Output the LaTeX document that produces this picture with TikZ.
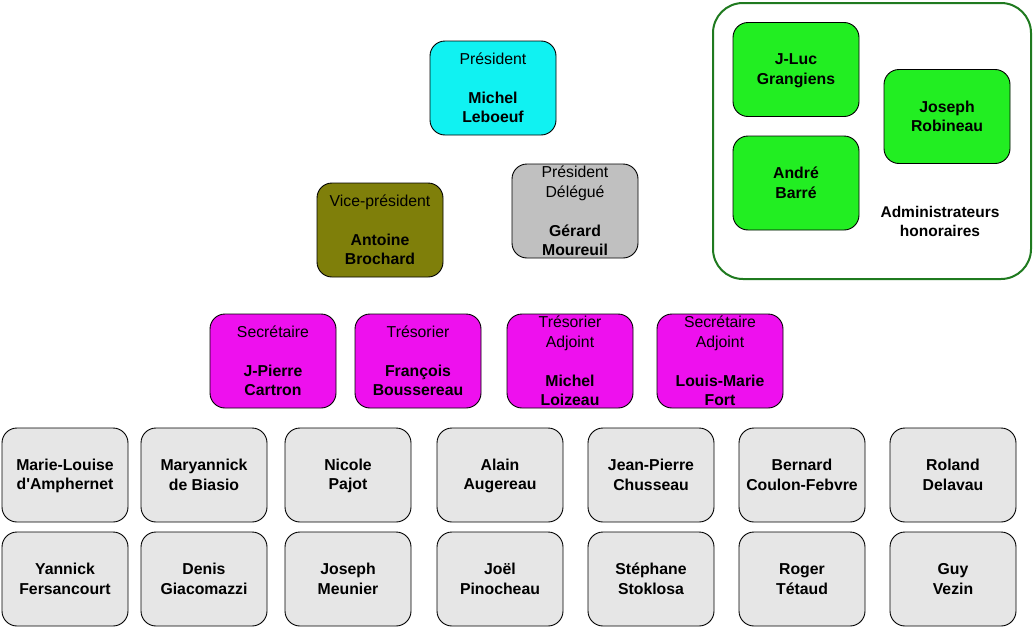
\documentclass[tikz,border=0pt]{standalone}
\usepackage{fontspec}
\setmainfont{Liberation Sans}
\definecolor{cyanbox}{HTML}{10F2F2}
\definecolor{olivebox}{HTML}{7F7F0A}
\definecolor{greybox}{HTML}{C0C0C0}
\definecolor{magbox}{HTML}{EE10EE}
\definecolor{lightbox}{HTML}{E6E6E6}
\definecolor{greenbox}{HTML}{22EE22}
\definecolor{frameg}{HTML}{1F7A1F}
\newcommand{\mys}{\rule[-2pt]{0pt}{15.3pt}}
\newcommand{\twol}[2]{\mys #1\\#2\mys}
\begin{document}
\begin{tikzpicture}[x=1pt,y=-1pt,
  card/.style={draw=black, line width=0.9pt, rounded corners=15pt,
    minimum width=126pt, minimum height=94pt, inner sep=0pt, align=center,
    font=\fontsize{15.8}{19.5}\selectfont},
  nm/.style={card, font=\fontsize{15.8}{19.5}\selectfont\bfseries},
  frame/.style={draw=frameg, line width=2pt, rounded corners=30pt}]
\useasboundingbox (0,0) rectangle (1033,629);
\fill[white] (0,0) rectangle (1033,629);

% honorary frame
\node[frame, minimum width=318pt, minimum height=276pt, inner sep=0pt] (hon) at (872,141) {};
\node[nm, fill=greenbox] (jluc) at (796,69.5) {\twol{J-Luc}{Grangiens}};
\node[nm, fill=greenbox] (andre) at (796,183) {\twol{André}{Barré}};
\node[nm, fill=greenbox] (robineau) at (947,116.5) {\twol{Joseph}{Robineau}};
\node[align=center, font=\fontsize{15.5}{19}\selectfont\bfseries] (adm) at (940,221) {\twol{Administrateurs}{honoraires}};

% top officers
\node[card, fill=cyanbox] (pres) at (493,88) {\mys Président\\[19.5pt]\textbf{Michel}\\\textbf{Leboeuf}\mys};
\node[card, fill=olivebox] (vp) at (380,230) {\mys Vice-président\\[19.5pt]\textbf{Antoine}\\\textbf{Brochard}\mys};
\node[card, fill=greybox] (pd) at (575,211) {\mys Président\\Délégué\\[19.5pt]\textbf{Gérard}\\\textbf{Moureuil}\mys};

% bureau
\node[card, fill=magbox] (sec) at (273,361) {\mys Secrétaire\\[19.5pt]\textbf{J-Pierre}\\\textbf{Cartron}\mys};
\node[card, fill=magbox] (tres) at (418,361) {\mys Trésorier\\[19.5pt]\textbf{François}\\\textbf{Boussereau}\mys};
\node[card, fill=magbox] (tresadj) at (570,361) {\mys Trésorier\\Adjoint\\[19.5pt]\textbf{Michel}\\\textbf{Loizeau}\mys};
\node[card, fill=magbox] (secadj) at (720,361) {\mys Secrétaire\\Adjoint\\[19.5pt]\textbf{Louis-Marie}\\\textbf{Fort}\mys};

% members row 1
\node[nm, fill=lightbox] (m1) at (65,475) {\twol{Marie-Louise}{d\textquotesingle Amphernet}};
\node[nm, fill=lightbox] (m2) at (204,475) {\twol{Maryannick}{de Biasio}};
\node[nm, fill=lightbox] (m3) at (348,475) {\twol{Nicole}{Pajot}};
\node[nm, fill=lightbox] (m4) at (500,475) {\twol{Alain}{Augereau}};
\node[nm, fill=lightbox] (m5) at (651,475) {\twol{Jean-Pierre}{Chusseau}};
\node[nm, fill=lightbox] (m6) at (802,475) {\twol{Bernard}{Coulon-Febvre}};
\node[nm, fill=lightbox] (m7) at (953,475) {\twol{Roland}{Delavau}};
% members row 2
\node[nm, fill=lightbox] (n1) at (65,579) {\twol{Yannick}{Fersancourt}};
\node[nm, fill=lightbox] (n2) at (204,579) {\twol{Denis}{Giacomazzi}};
\node[nm, fill=lightbox] (n3) at (348,579) {\twol{Joseph}{Meunier}};
\node[nm, fill=lightbox] (n4) at (500,579) {\twol{Joël}{Pinocheau}};
\node[nm, fill=lightbox] (n5) at (651,579) {\twol{Stéphane}{Stoklosa}};
\node[nm, fill=lightbox] (n6) at (802,579) {\twol{Roger}{Tétaud}};
\node[nm, fill=lightbox] (n7) at (953,579) {\twol{Guy}{Vezin}};
\end{tikzpicture}
\end{document}
